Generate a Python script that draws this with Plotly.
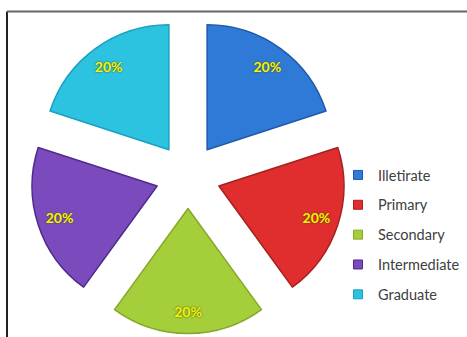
import plotly.graph_objects as go

# Education level distribution
categories = ["Illetirate", "Primary", "Secondary", "Intermediate", "Graduate"]
shares = [20, 20, 20, 20, 20]
labels = ["20%", "20%", "20%", "20%", "20%"]

fill_colors = ["#2f7ad6", "#e02e2e", "#a5cf3a", "#7b4bbe", "#2cc3e0"]
edge_colors = ["#1f5aa8", "#a81f1f", "#86a82a", "#4e2a8a", "#1b9fc0"]

W, H = 467, 337
pull = [0.26] * len(shares)

# pie box in paper fractions (exploded radius fits inside)
cx, cy, half = 188, 176, 157.5
dom_x = [(cx - half) / W, (cx + half) / W]
dom_y = [(H - cy - half) / H, (H - cy + half) / H]

fig = go.Figure()

# solid exploded slices
fig.add_trace(go.Pie(
    labels=categories,
    values=shares,
    sort=False,
    direction="clockwise",
    rotation=0,
    pull=pull,
    domain=dict(x=dom_x, y=dom_y),
    marker=dict(colors=fill_colors, line=dict(color=edge_colors, width=1.5)),
    textinfo="none",
    hoverinfo="label+percent",
    showlegend=False,
))

# transparent ring carrying the percentage labels near the slice rims
fig.add_trace(go.Pie(
    labels=categories,
    values=shares,
    sort=False,
    direction="clockwise",
    rotation=0,
    pull=pull,
    hole=0.64,
    domain=dict(x=dom_x, y=dom_y),
    marker=dict(colors=["rgba(0,0,0,0)"] * len(shares), line=dict(width=0)),
    text=labels,
    textinfo="text",
    textposition="inside",
    insidetextorientation="horizontal",
    textfont=dict(family="Lato", size=14, color="#f4f40a", weight="bold",
                  shadow="0px 0px 2px #4a4200"),
    hoverinfo="skip",
    showlegend=False,
))

# legend entries
for name, fc, ec in zip(categories, fill_colors, edge_colors):
    fig.add_trace(go.Scatter(
        x=[None], y=[None], mode="markers", name=name, legendgroup=name,
        marker=dict(symbol="square", size=9, color=fc, line=dict(color=ec, width=1)),
    ))

fig.update_layout(
    width=W, height=H,
    margin=dict(l=0, r=0, t=0, b=0),
    paper_bgcolor="white",
    plot_bgcolor="white",
    xaxis=dict(visible=False),
    yaxis=dict(visible=False),
    legend=dict(
        x=338 / W, y=1 - 159 / H, xanchor="left", yanchor="top",
        font=dict(family="Lato", size=14.5, color="#404040"),
        tracegroupgap=8,
        bgcolor="rgba(0,0,0,0)",
    ),
    shapes=[
        dict(type="line", xref="paper", yref="paper",
             x0=7 / W, y0=0, x1=7 / W, y1=1 - 11.5 / H,
             line=dict(color="#222222", width=2)),
        dict(type="line", xref="paper", yref="paper",
             x0=7 / W, y0=1 - 11.5 / H, x1=1, y1=1 - 11.5 / H,
             line=dict(color="#666666", width=2)),
    ],
)

fig.write_html("out.html")
